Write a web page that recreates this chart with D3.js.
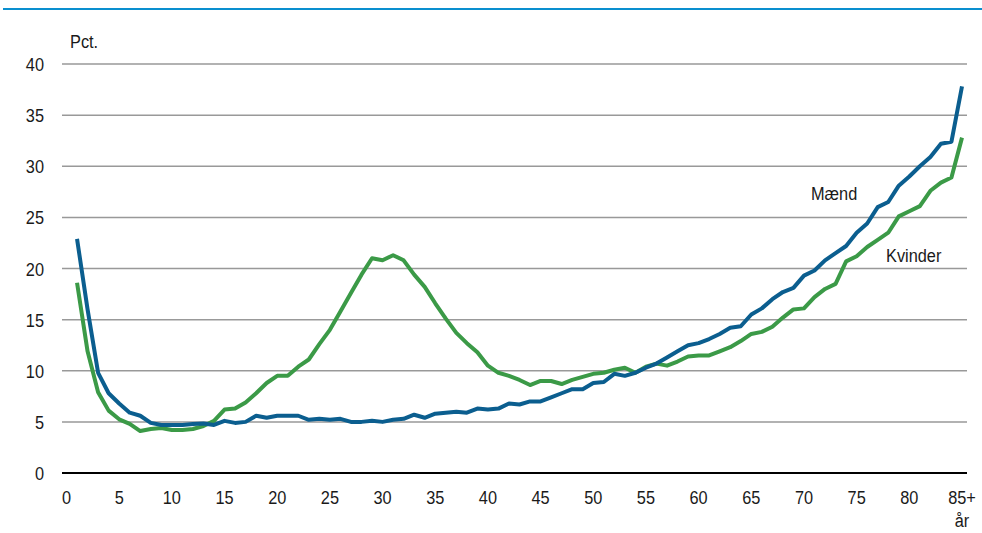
<!DOCTYPE html>
<html>
<head>
<meta charset="utf-8">
<script src="https://cdn.jsdelivr.net/npm/d3@7"></script>
<style>
  body { margin: 0; background: #fff; }
  svg text { font-family: "Liberation Sans Narrow", "Arial Narrow", "Liberation Sans", sans-serif; fill: #1a1a1a; font-size: 19px; }
  .grid line { stroke: #999; stroke-width: 1.5; }
</style>
</head>
<body>
<svg id="chart" width="982" height="533"></svg>
<script>
// ages 1..85 (85 = 85+)
var AGES = d3.range(1, 86);

var MAEND = [22.9, 16.0, 9.8, 7.8, 6.8, 5.9, 5.6, 4.9, 4.7, 4.7,
             4.7, 4.8, 4.85, 4.7, 5.1, 4.9, 5.0, 5.6, 5.4, 5.6,
             5.6, 5.6, 5.2, 5.3, 5.2, 5.3, 5.0, 5.0, 5.1, 5.0,
             5.2, 5.3, 5.7, 5.4, 5.8, 5.9, 6.0, 5.9, 6.3, 6.2,
             6.3, 6.8, 6.7, 7.0, 7.0, 7.4, 7.8, 8.2, 8.2, 8.8,
             8.9, 9.7, 9.5, 9.8, 10.3, 10.7, 11.3, 11.9, 12.5, 12.7,
             13.1, 13.6, 14.2, 14.35, 15.5, 16.1, 17.0, 17.7, 18.1, 19.3,
             19.8, 20.8, 21.5, 22.2, 23.5, 24.4, 26.0, 26.5, 28.1, 29.0,
             30.0, 30.9, 32.2, 32.4, 37.8];

var KVINDER = [18.6, 11.9, 7.9, 6.1, 5.25, 4.8, 4.1, 4.3, 4.4, 4.2,
               4.2, 4.3, 4.6, 5.1, 6.2, 6.3, 6.9, 7.8, 8.8, 9.5,
               9.5, 10.4, 11.1, 12.6, 14.0, 15.8, 17.6, 19.4, 21.0, 20.8,
               21.3, 20.8, 19.4, 18.2, 16.6, 15.1, 13.7, 12.7, 11.8, 10.5,
               9.8, 9.5, 9.1, 8.6, 9.0, 9.0, 8.7, 9.1, 9.4, 9.7,
               9.8, 10.1, 10.3, 9.8, 10.4, 10.7, 10.5, 10.9, 11.4, 11.5,
               11.5, 11.9, 12.3, 12.9, 13.6, 13.8, 14.3, 15.2, 16.0, 16.1,
               17.2, 18.0, 18.5, 20.7, 21.2, 22.1, 22.8, 23.5, 25.1, 25.6,
               26.1, 27.6, 28.4, 28.9, 32.8];

var Y_TICKS = [0, 5, 10, 15, 20, 25, 30, 35, 40];
var X_TICKS = [0, 5, 10, 15, 20, 25, 30, 35, 40, 45, 50, 55, 60, 65, 70, 75, 80, 85];

var svg = d3.select('#chart');

var x = d3.scaleLinear().domain([0, 85]).range([66.5, 962]);
var y = d3.scaleLinear().domain([0, 40]).range([473, 64]);
var left = 62, right = 967;
var SX = 0.86; // squeeze text to look like a narrow face

// text helper: position via transform so we can squeeze horizontally
function label(g, tx, ty, anchor, str) {
    return g.append('text')
        .attr('transform', 'translate(' + tx + ',' + ty + ') scale(' + SX + ',1)')
        .attr('text-anchor', anchor)
        .text(str);
}

// top rule
svg.append('line')
    .attr('x1', 3).attr('x2', 982).attr('y1', 9).attr('y2', 9)
    .attr('stroke', '#0a8fcf').attr('stroke-width', 2);

// gridlines
svg.append('g').attr('class', 'grid')
    .selectAll('line')
    .data(Y_TICKS.filter(d => d > 0))
    .enter().append('line')
    .attr('x1', left).attr('x2', right)
    .attr('y1', d => y(d)).attr('y2', d => y(d));

// zero line
svg.append('line')
    .attr('x1', left).attr('x2', right)
    .attr('y1', y(0)).attr('y2', y(0))
    .attr('stroke', '#000').attr('stroke-width', 2);

// y labels
var gy = svg.append('g');
Y_TICKS.forEach(function(d) { label(gy, 44, y(d) + 7, 'end', d); });
label(svg, 70, 48, 'start', 'Pct.');

// x labels
var gx = svg.append('g');
X_TICKS.forEach(function(d) { label(gx, x(d), 504, 'middle', d == 85 ? '85+' : d); });
label(svg, x(85), 527, 'middle', 'år');

var line = d3.line()
    .x((d, i) => x(AGES[i]))
    .y(d => y(d));

svg.append('path')
    .datum(KVINDER)
    .attr('fill', 'none')
    .attr('stroke', '#3b9a47')
    .attr('stroke-width', 4)
    .attr('stroke-linejoin', 'round')
    .attr('d', line);

svg.append('path')
    .datum(MAEND)
    .attr('fill', 'none')
    .attr('stroke', '#0b5e8f')
    .attr('stroke-width', 4)
    .attr('stroke-linejoin', 'round')
    .attr('d', line);

label(svg, 811, 200, 'start', 'Mænd');
label(svg, 886, 262, 'start', 'Kvinder');
</script>
</body>
</html>
